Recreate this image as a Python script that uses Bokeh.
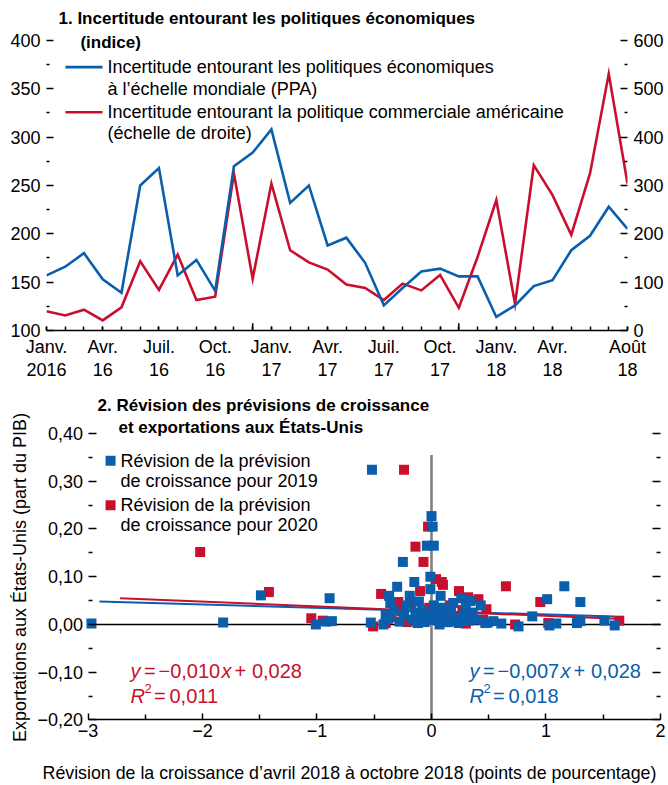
import math
from bokeh.plotting import figure
from bokeh.models import (Range1d, LinearAxis, FixedTicker, Label, CustomJSTickFormatter)
from bokeh.embed import file_html
from bokeh.resources import INLINE

FONT = "'Liberation Sans', Arial, sans-serif"
BLUE = "#0A5FAD"
RED = "#C8102E"

# ---------------- Panel 1 data ----------------
month_index = list(range(32))  # Jan 2016 .. Aug 2018
tick_months = [0, 3, 6, 9, 12, 15, 18, 21, 24, 27, 31]
tick_labels = ["Janv.\n2016", "Avr.\n16", "Juil.\n16", "Oct.\n16", "Janv.\n17", "Avr.\n17",
               "Juil.\n17", "Oct.\n17", "Janv.\n18", "Avr.\n18", "Août\n18"]
year_breaks = [11, 22]
left_ticks = [100, 150, 200, 250, 300, 350, 400]
right_ticks = [0, 100, 200, 300, 400, 500, 600]

global_epu = [157, 166, 180, 153, 139, 250, 268, 157, 173, 141, 270, 284,
              308, 232, 250, 188, 196, 170, 126, 144, 161, 164, 156, 156,
              114, 126, 146, 152, 183, 198, 228, 205]
us_trade_pu = [40, 31, 43, 21, 48, 143, 84, 157, 63, 70, 325, 107,
               304, 166, 141, 126, 95, 88, 63, 97, 83, 115, 47, 152,
               270, 55, 342, 280, 198, 325, 531, 304]

# ---------------- Panel 2 data ----------------
x_ticks = [-3, -2, -1, 0, 1, 2]
y_ticks = [-0.2, -0.1, 0.0, 0.1, 0.2, 0.3, 0.4]

rev2019_x = [-2.97, -1.82, -1.49, -1.01, -0.92, -0.87, -0.89, -0.53, -0.52, -0.42,
             -0.40, -0.38, -0.37, -0.36, -0.33, -0.30, -0.28, -0.25, -0.24, -0.22,
             -0.20, -0.19, -0.17, -0.15, -0.14, -0.12, -0.11, -0.09, -0.08, -0.06,
             -0.04, -0.03, -0.01, -0.01, 0.00, 0.01, 0.02, 0.02, 0.03, 0.05,
             0.07, 0.08, 0.10, 0.12, 0.15, 0.17, 0.19, 0.22, 0.24, 0.26,
             0.28, 0.30, 0.32, 0.34, 0.36, 0.40, 0.43, 0.47, 0.49, 0.54,
             0.61, 0.76, 0.88, 1.01, 1.03, 1.09, 1.16, 1.27, 1.30, 1.30,
             1.51, 1.60]
rev2019_y = [0.002, 0.004, 0.061, 0.000, 0.006, 0.007, 0.055, 0.004, 0.324, 0.000,
             0.020, 0.012, 0.060, 0.045, 0.030, 0.079, 0.006, 0.131, 0.020, 0.040,
             0.036, 0.060, 0.010, 0.089, 0.025, 0.003, 0.048, 0.015, 0.030, 0.005,
             0.165, 0.020, 0.100, 0.074, 0.227, 0.205, 0.165, 0.040, 0.010, 0.025,
             0.000, 0.060, 0.035, 0.015, 0.005, 0.028, 0.045, 0.012, 0.003, 0.055,
             0.020, 0.035, 0.008, 0.049, 0.025, 0.010, 0.040, 0.003, 0.004, 0.007,
             0.002, -0.004, 0.017, 0.053, -0.002, 0.002, 0.080, 0.003, 0.047, 0.007,
             0.008, -0.002]
rev2020_x = [-2.02, -1.42, -1.05, -0.95, -0.51, -0.44, -0.40, -0.35, -0.29, -0.26,
             -0.24, -0.21, -0.18, -0.14, -0.10, -0.07, -0.05, -0.03, -0.02, 0.04,
             0.06, 0.09, 0.10, 0.13, 0.16, 0.20, 0.24, 0.27, 0.30, 0.32,
             0.35, 0.41, 0.45, 0.48, 0.65, 0.73, 0.95, 1.02, 1.64]
rev2020_y = [0.152, 0.068, 0.013, 0.008, -0.004, 0.064, 0.003, 0.015, 0.047, 0.028,
             0.324, 0.005, 0.045, 0.163, 0.070, 0.131, 0.010, 0.205, 0.035, 0.095,
             0.020, 0.089, 0.083, 0.005, 0.040, 0.015, 0.070, 0.030, 0.002, 0.057,
             0.020, 0.053, 0.010, 0.032, 0.080, 0.000, 0.047, 0.003, 0.008]

fit2019_slope, fit2019_intercept, fit2019_xrange = -0.007, 0.028, [-2.9, 1.6]
fit2020_slope, fit2020_intercept, fit2020_xrange = -0.010, 0.028, [-2.72, 1.62]


def style_axis(ax, major_in=7, minor_in=3, line=False, size="18px", standoff=5):
    ax.major_label_text_font = FONT
    ax.major_label_text_font_size = size
    ax.major_label_text_color = "black"
    ax.major_tick_in = major_in
    ax.major_tick_out = 0
    ax.minor_tick_in = minor_in
    ax.minor_tick_out = 0
    ax.major_tick_line_color = "black"
    ax.minor_tick_line_color = "black"
    ax.major_tick_line_width = 1.5
    ax.minor_tick_line_width = 1.5
    ax.major_label_standoff = standoff
    if line:
        ax.axis_line_color = "black"
        ax.axis_line_width = 1.5
    else:
        ax.axis_line_color = None


def lab(p, x, y, text, size=18, color="black", style="normal", align="left", angle=0.0):
    p.add_layout(Label(x=x, y=y, text=text, text_font=FONT, text_font_size=f"{size}px",
                       text_color=color, text_font_style=style, text_align=align,
                       text_baseline="middle", angle=angle))


# ======================= Panel 1 =======================
p1 = figure(frame_width=581, frame_height=320, x_range=Range1d(0, 31), y_range=Range1d(100, 431),
            output_backend="svg", toolbar_location=None,
            min_border_left=46, min_border_right=41, min_border_top=10, min_border_bottom=55)
p1.extra_y_ranges = {"right": Range1d(0, 662)}
p1.xgrid.visible = False
p1.ygrid.visible = False
p1.outline_line_color = None

style_axis(p1.yaxis[0], standoff=6)
p1.yaxis[0].ticker = FixedTicker(ticks=left_ticks,
                                 minor_ticks=[v + 25 for v in left_ticks[:-1]])

right_ax = LinearAxis(y_range_name="right",
                      ticker=FixedTicker(ticks=right_ticks,
                                         minor_ticks=[v + 50 for v in right_ticks[:-1]]))
style_axis(right_ax, standoff=6)
p1.add_layout(right_ax, "right")

xa = p1.xaxis[0]
style_axis(xa, major_in=4, minor_in=4, line=True, standoff=6)
xa.ticker = FixedTicker(ticks=tick_months, minor_ticks=month_index)
xa.major_label_overrides = {m: t for m, t in zip(tick_months, tick_labels)}
xa.major_label_text_line_height = 1.15

p1.segment(x0=year_breaks, y0=[100] * len(year_breaks), x1=year_breaks,
           y1=[107.5] * len(year_breaks), line_color="black", line_width=1.5)

p1.line(month_index, us_trade_pu, y_range_name="right", line_color=RED, line_width=2.6,
        line_join="miter")
p1.line(month_index, global_epu, line_color=BLUE, line_width=2.6, line_join="miter")

lab(p1, 0.64, 422.7, "1. Incertitude entourant les politiques économiques", size=17, style="bold")
lab(p1, 1.81, 397.9, "(indice)", size=17, style="bold")
p1.line([1.01, 2.99], [372.4, 372.4], line_color=BLUE, line_width=2.6)
p1.line([1.01, 2.99], [325.8, 325.8], line_color=RED, line_width=2.6)
lab(p1, 3.26, 372.1, "Incertitude entourant les politiques économiques")
lab(p1, 3.26, 350.3, "à l’échelle mondiale (PPA)")
lab(p1, 3.26, 326.5, "Incertitude entourant la politique commerciale américaine")
lab(p1, 3.26, 303.8, "(échelle de droite)")

# ======================= Panel 2 =======================
# The frame covers the whole lower area; the axes are pinned at x = -3, x = 2 and y = -0.20.
p2 = figure(frame_width=668, frame_height=398, x_range=Range1d(-3.7642, 2.0699),
            y_range=Range1d(-0.3372, 0.4963),
            output_backend="svg", toolbar_location=None,
            min_border_left=0, min_border_right=0, min_border_top=2, min_border_bottom=0)
p2.xgrid.visible = False
p2.ygrid.visible = False
p2.outline_line_color = None

ya = p2.yaxis[0]
style_axis(ya, major_in=8, minor_in=4, standoff=5)
ya.fixed_location = x_ticks[0]
ya.bounds = (y_ticks[0], y_ticks[-1])
ya.ticker = FixedTicker(ticks=y_ticks, minor_ticks=[v + 0.05 for v in y_ticks[:-1]])
ya.formatter = CustomJSTickFormatter(
    code="var s = Math.abs(tick).toFixed(2).replace('.', ','); return (tick < -1e-9 ? '\u2212' : '') + s;")

ra = LinearAxis(ticker=FixedTicker(ticks=y_ticks, minor_ticks=[v + 0.05 for v in y_ticks[:-1]]),
                formatter=CustomJSTickFormatter(code="return '';"),
                bounds=(y_ticks[0], y_ticks[-1]), fixed_location=x_ticks[-1])
style_axis(ra, major_in=8, minor_in=4, standoff=0)
ra.major_label_text_font_size = "1px"
p2.add_layout(ra, "right")

xb = p2.xaxis[0]
style_axis(xb, major_in=6, minor_in=5, line=True, standoff=4)
xb.fixed_location = y_ticks[0]
xb.bounds = (x_ticks[0], x_ticks[-1])
xb.ticker = FixedTicker(ticks=x_ticks, minor_ticks=[v + 0.5 for v in x_ticks[:-1]])
xb.formatter = CustomJSTickFormatter(
    code="var v = Math.round(tick); return (v < 0 ? '\u2212' : '') + Math.abs(v);")

lab(p2, -2.917, 0.4586, "2. Révision des prévisions de croissance", size=17, style="bold")
lab(p2, -2.734, 0.4126, "et exportations aux États-Unis", size=17, style="bold")

# zero lines
p2.segment(x0=[x_ticks[0]], y0=[0], x1=[x_ticks[-1]], y1=[0], line_color="black", line_width=1.5)
p2.segment(x0=[0], y0=[y_ticks[0]], x1=[0], y1=[0.355], line_color="#808080", line_width=2.6)

fx19 = fit2019_xrange
fx20 = fit2020_xrange
p2.line(fx19, [fit2019_slope * v + fit2019_intercept for v in fx19], line_color=BLUE, line_width=2)
p2.line(fx20, [fit2020_slope * v + fit2020_intercept for v in fx20], line_color=RED, line_width=2)

p2.scatter(rev2020_x, rev2020_y, marker="square", size=10, fill_color=RED, line_color=None)
p2.scatter(rev2019_x, rev2019_y, marker="square", size=10, fill_color=BLUE, line_color=None)

p2.scatter([-2.803], [0.3428], marker="square", size=10, fill_color=BLUE, line_color=None)
p2.scatter([-2.803], [0.2495], marker="square", size=10, fill_color=RED, line_color=None)
lab(p2, -2.716, 0.3428, "Révision de la prévision")
lab(p2, -2.716, 0.2998, "de croissance pour 2019")
lab(p2, -2.716, 0.2495, "Révision de la prévision")
lab(p2, -2.716, 0.2075, "de croissance pour 2020")


def equation(p, x0, slope_txt, inter_txt, r2_txt, color):
    u = 1 / 114.5  # pixel offsets -> data units
    yb1, yb2, ysup = -0.0964, -0.1488, -0.1345
    lab(p, x0, yb1, "y", 20, color, "italic")
    lab(p, x0 + 13.5 * u, yb1, "=", 20, color)
    lab(p, x0 + 28.0 * u, yb1, slope_txt, 20, color)
    lab(p, x0 + 91.0 * u, yb1, "x", 20, color, "italic")
    lab(p, x0 + 104.0 * u, yb1, "+", 20, color)
    lab(p, x0 + 121.4 * u, yb1, inter_txt, 20, color)
    lab(p, x0, yb2, "R", 20, color, "italic")
    lab(p, x0 + 14.0 * u, ysup, "2", 13, color)
    lab(p, x0 + 23.5 * u, yb2, "=", 20, color)
    lab(p, x0 + 39.0 * u, yb2, r2_txt, 20, color)


equation(p2, -2.629, "−0,010", "0,028", "0,011", RED)
equation(p2, 0.332, "−0,007", "0,028", "0,018", BLUE)

lab(p2, -3.598, 0.0985, "Exportations aux États-Unis (part du PIB)", align="center", angle=math.pi / 2)
lab(p2, -3.397, -0.3103,
    "Révision de la croissance d’avril 2018 à octobre 2018 (points de pourcentage)", size=17.8)

open("out.html", "w").write(file_html([p1, p2], INLINE))
